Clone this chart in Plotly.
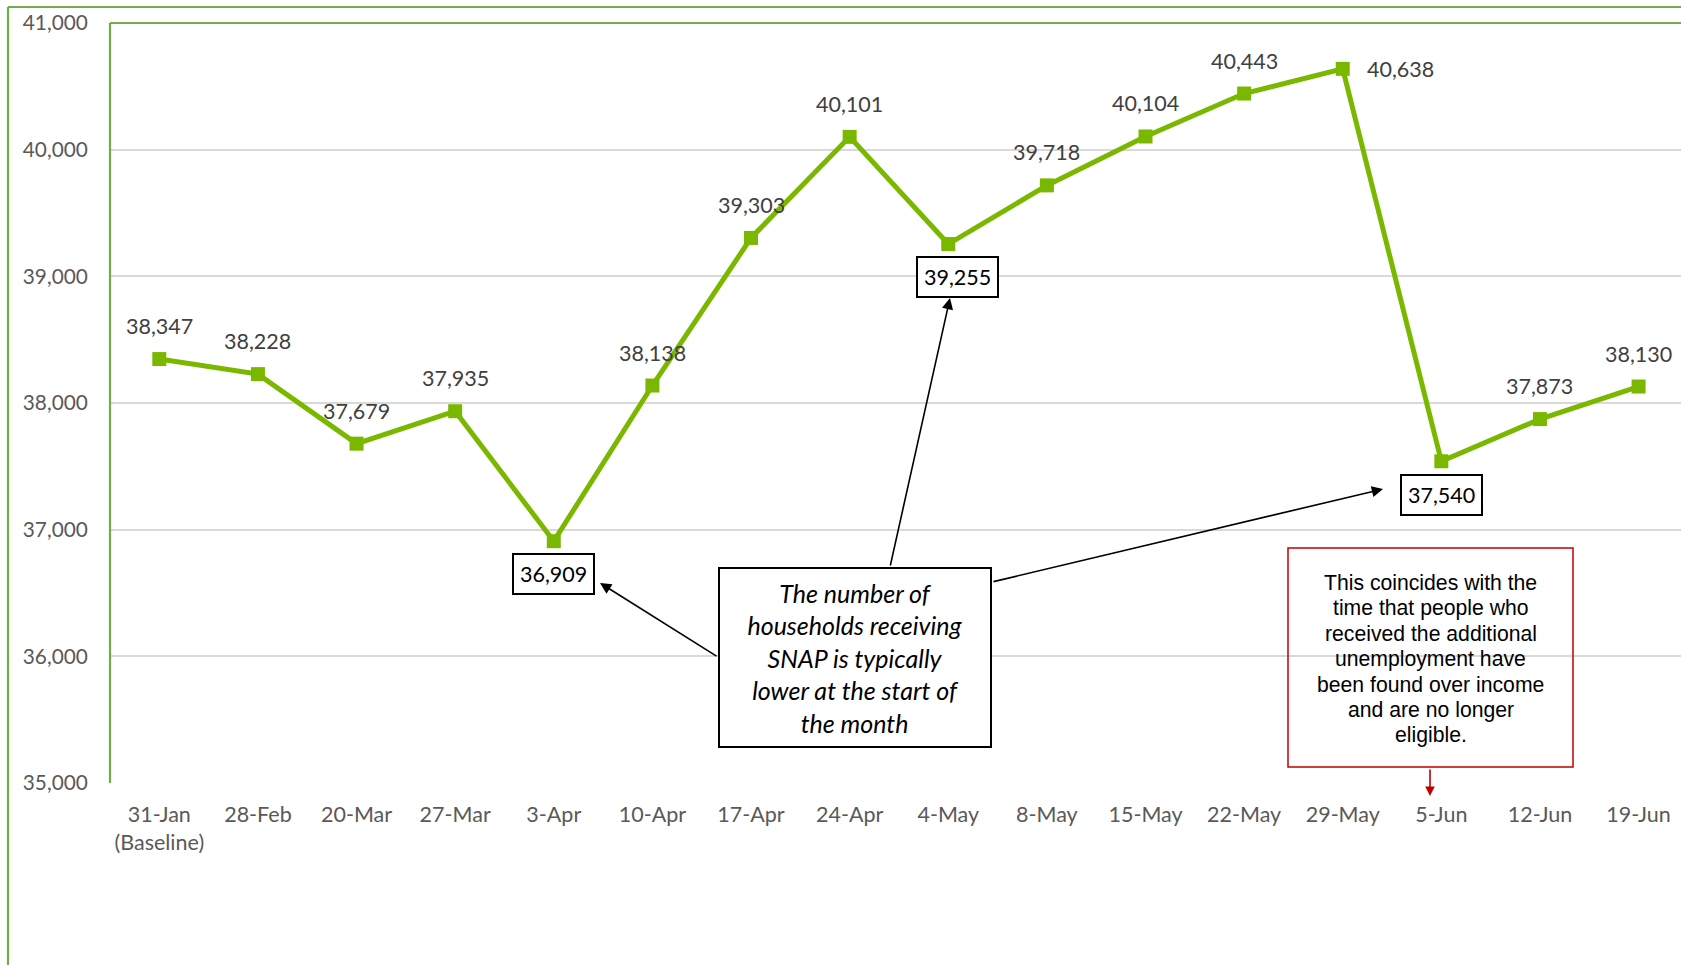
import plotly.graph_objects as go

categories = ["31-Jan", "28-Feb", "20-Mar", "27-Mar", "3-Apr", "10-Apr", "17-Apr", "24-Apr",
              "4-May", "8-May", "15-May", "22-May", "29-May", "5-Jun", "12-Jun", "19-Jun"]
tick_labels = ["31-Jan<br>(Baseline)", "28-Feb", "20-Mar", "27-Mar", "3-Apr", "10-Apr", "17-Apr",
               "24-Apr", "4-May", "8-May", "15-May", "22-May", "29-May", "5-Jun", "12-Jun", "19-Jun"]
households = [38347, 38228, 37679, 37935, 36909, 38138, 39303, 40101,
              39255, 39718, 40104, 40443, 40638, 37540, 37873, 38130]
y_ticks = [35000, 36000, 37000, 38000, 39000, 40000, 41000]

callout_text = ("<i>The number of<br>households receiving<br>SNAP is typically<br>"
                "lower at the start of<br>the month</i>")
note_lines = ["This coincides with the", "time that people who", "received the additional",
              "unemployment have", "been found over income", "and are no longer", "eligible."]

# ---- layout geometry (pixels) ----
FIG_W, FIG_H = 1681, 965
M_L, M_T, M_B = 110, 23, 182
X_RANGE = [-0.5, 15.43]
Y_RANGE = [35000, 41000]
PLOT_W = FIG_W - M_L
PLOT_H = FIG_H - M_T - M_B

def px2x(px):
    return X_RANGE[0] + (px - M_L) * (X_RANGE[1] - X_RANGE[0]) / PLOT_W

def py2y(py):
    return Y_RANGE[0] + (M_T + PLOT_H - py) * (Y_RANGE[1] - Y_RANGE[0]) / PLOT_H

def px2paper(px):
    return (px - M_L) / PLOT_W

def py2paper(py):
    return (M_T + PLOT_H - py) / PLOT_H

GREEN_LINE = "#7AB800"
BORDER_GREEN = "#70AD47"
LABEL_FONT = "Lato"
LABEL_SIZE = 21.5

fig = go.Figure()
fig.add_trace(go.Scatter(
    x=categories, y=households, mode="lines+markers",
    line=dict(color=GREEN_LINE, width=5),
    marker=dict(symbol="square", size=14, color=GREEN_LINE),
    hoverinfo="skip", showlegend=False,
))

# label placement styles per point index
boxed = {4: (0, -33), 8: (9, -33), 13: (0, -34)}
right_side = {12: 58}

annotations = []
for i, (c, v) in enumerate(zip(categories, households)):
    txt = f"{v:,}"
    if i in boxed:
        dx, dy = boxed[i]
        annotations.append(dict(x=c, y=v, text=txt, showarrow=False, xshift=dx, yshift=dy,
                                font=dict(family=LABEL_FONT, size=LABEL_SIZE, color="#000000"),
                                bordercolor="#000000", borderwidth=2, borderpad=6,
                                bgcolor="#FFFFFF"))
    elif i in right_side:
        annotations.append(dict(x=c, y=v, text=txt, showarrow=False, xshift=right_side[i],
                                font=dict(family=LABEL_FONT, size=LABEL_SIZE, color="#404040")))
    else:
        annotations.append(dict(x=c, y=v, text=txt, showarrow=False, yshift=33,
                                font=dict(family=LABEL_FONT, size=LABEL_SIZE, color="#404040")))

# black callout box
annotations.append(dict(
    x=px2x(855), y=py2y(657.5), xref="x", yref="y", text=callout_text, showarrow=False,
    font=dict(family=LABEL_FONT, size=25, color="#000000"),
    bordercolor="#000000", borderwidth=2, borderpad=0, bgcolor="#FFFFFF",
    width=270, height=177, align="center", valign="middle",
))

# arrows from the callout box
arrow_specs = [
    ((718, 657), (600, 583)),
    ((890, 567), (950, 298)),
    ((992, 582), (1383, 489)),
]
for (tx, ty), (hx, hy) in arrow_specs:
    annotations.append(dict(
        x=px2x(hx), y=py2y(hy), ax=px2x(tx), ay=py2y(ty),
        xref="x", yref="y", axref="x", ayref="y", text="", showarrow=True,
        arrowhead=2, arrowsize=1.4, arrowwidth=1.6, arrowcolor="#000000",
    ))

# red note box text, one annotation per line
NOTE_CX, NOTE_CY, NOTE_LH = 1430.5, 658.5, 25.5
n = len(note_lines)
for k, line in enumerate(note_lines):
    cy = NOTE_CY + (k - (n - 1) / 2) * NOTE_LH
    annotations.append(dict(
        x=px2x(NOTE_CX), y=py2y(cy), xref="x", yref="y", text=line, showarrow=False,
        font=dict(family="Liberation Sans, Arial", size=21.2, color="#000000"),
        xanchor="center", yanchor="middle",
    ))
annotations.append(dict(
    x=px2x(1430), y=py2y(796), ax=px2x(1430), ay=py2y(768),
    xref="x", yref="y", axref="x", ayref="y", text="", showarrow=True,
    arrowhead=2, arrowsize=1.2, arrowwidth=1.6, arrowcolor="#C00000",
))

shapes = [
    # outer chart border (left and top)
    dict(type="line", xref="paper", yref="paper", x0=px2paper(8), x1=px2paper(8),
         y0=py2paper(7), y1=py2paper(FIG_H + 5), line=dict(color=BORDER_GREEN, width=2.2)),
    dict(type="line", xref="paper", yref="paper", x0=px2paper(8), x1=px2paper(FIG_W + 5),
         y0=py2paper(7), y1=py2paper(7), line=dict(color=BORDER_GREEN, width=2.2)),
    # plot area border (left and top)
    dict(type="line", xref="paper", yref="paper", x0=0, x1=0, y0=0, y1=1,
         line=dict(color=BORDER_GREEN, width=2.2)),
    dict(type="line", xref="paper", yref="paper", x0=0, x1=1.01, y0=1, y1=1,
         line=dict(color=BORDER_GREEN, width=2.2)),
    # red note box
    dict(type="rect", xref="x", yref="y", x0=px2x(1288), x1=px2x(1573),
         y0=py2y(767), y1=py2y(548), line=dict(color="#C00000", width=1.5),
         fillcolor="rgba(0,0,0,0)"),
]

fig.update_layout(
    width=FIG_W, height=FIG_H,
    margin=dict(l=M_L, r=0, t=M_T, b=M_B, pad=0),
    paper_bgcolor="#FFFFFF", plot_bgcolor="#FFFFFF",
    showlegend=False,
    annotations=annotations,
    shapes=shapes,
    xaxis=dict(
        type="category", range=X_RANGE, tickvals=categories, ticktext=tick_labels,
        showgrid=False, zeroline=False, showline=False,
        ticks="outside", ticklen=12, tickcolor="rgba(0,0,0,0)",
        tickfont=dict(family=LABEL_FONT, size=LABEL_SIZE, color="#595959"),
    ),
    yaxis=dict(
        range=Y_RANGE, tickvals=y_ticks, ticktext=[f"{t:,}" for t in y_ticks],
        showgrid=True, gridcolor="#D9D9D9", gridwidth=1.6, zeroline=False, showline=False,
        ticks="outside", ticklen=17, tickcolor="rgba(0,0,0,0)",
        tickfont=dict(family=LABEL_FONT, size=20.8, color="#595959"),
    ),
)

fig.write_html("out.html", config={"displayModeBar": False},
               post_script="document.body.style.margin='0';document.body.style.overflow='hidden';")
